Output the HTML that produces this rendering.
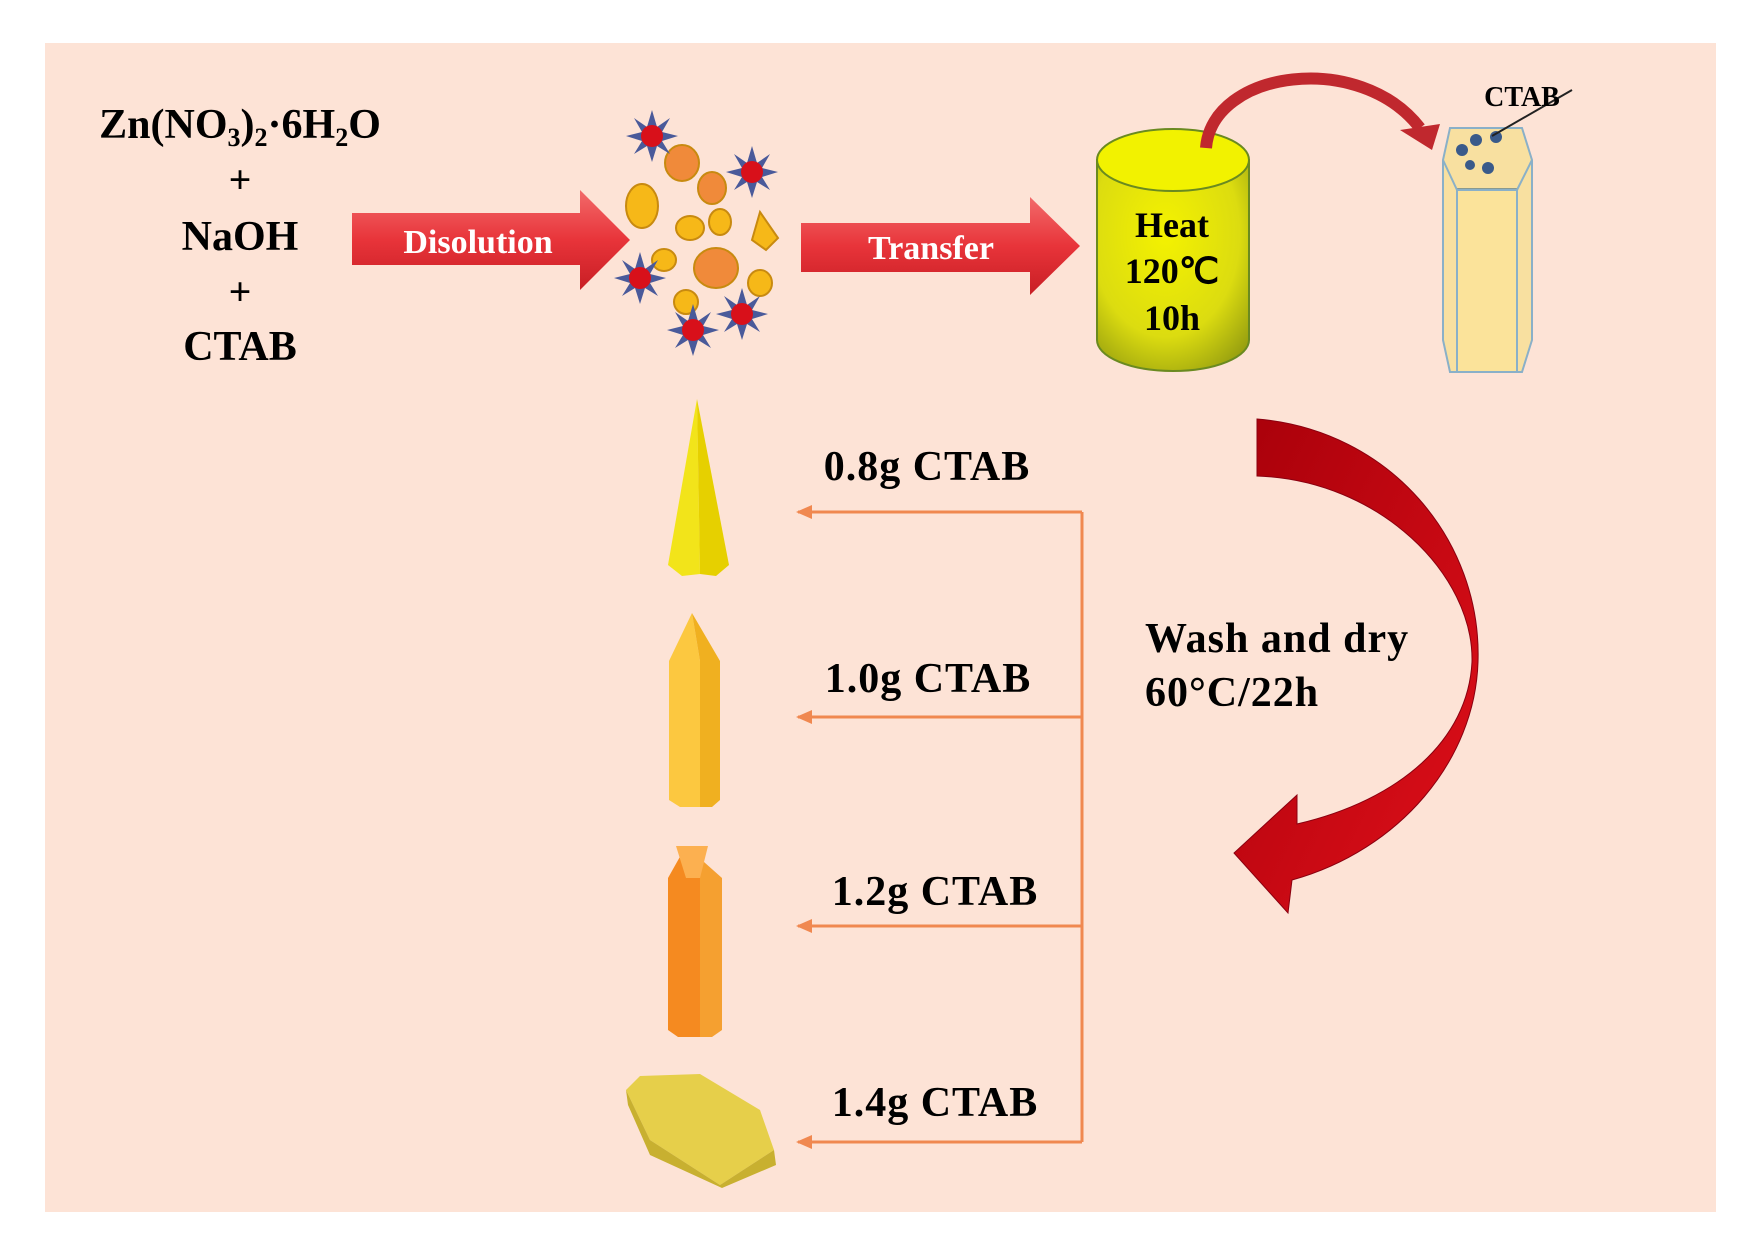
<!DOCTYPE html>
<html><head><meta charset="utf-8"><style>
html,body{margin:0;padding:0;background:#fff;}
svg{display:block;}
text{font-family:"Liberation Serif",serif;font-weight:bold;}
</style></head><body>
<svg width="1764" height="1256" viewBox="0 0 1764 1256" xmlns="http://www.w3.org/2000/svg">
<defs>
<linearGradient id="ar" x1="0" y1="0" x2="0" y2="1">
<stop offset="0" stop-color="#f26a6a"/><stop offset="0.5" stop-color="#e8343a"/><stop offset="1" stop-color="#c81e24"/></linearGradient>
<radialGradient id="cyl" cx="0.45" cy="0.35" r="0.75">
<stop offset="0" stop-color="#f4f200"/><stop offset="0.65" stop-color="#dcdc10"/><stop offset="1" stop-color="#98a010"/></radialGradient>
<linearGradient id="big" x1="0" y1="0" x2="1" y2="1">
<stop offset="0" stop-color="#a8000a"/><stop offset="1" stop-color="#e0101a"/></linearGradient>
<g id="star">
<polygon points="0,-26 5,-9 18,-18 10,-4 26,0 10,5 18,18 5,10 0,26 -5,10 -18,18 -10,5 -26,0 -10,-4 -18,-18 -5,-9" fill="#4a5a9a"/>
<circle r="11" fill="#d8101a"/></g>
</defs>
<rect x="45" y="43" width="1671" height="1169" fill="#fde3d6"/>

<text x="240" y="138" font-size="42" text-anchor="middle">Zn(NO<tspan font-size="26" dy="8">3</tspan><tspan dy="-8">)</tspan><tspan font-size="26" dy="8">2</tspan><tspan dy="-8">·6H</tspan><tspan font-size="26" dy="8">2</tspan><tspan dy="-8">O</tspan></text>
<text x="240" y="193" font-size="40" text-anchor="middle" font-weight="normal">+</text>
<text x="240" y="250" font-size="42" text-anchor="middle">NaOH</text>
<text x="240" y="305" font-size="40" text-anchor="middle" font-weight="normal">+</text>
<text x="240" y="360" font-size="42" text-anchor="middle">CTAB</text>

<polygon points="352,213 580,213 580,190 630,240 580,290 580,265 352,265" fill="url(#ar)"/>
<text x="478" y="253" font-size="34" fill="#fff" text-anchor="middle">Disolution</text>

<g stroke="#c88a10" stroke-width="2">
<ellipse cx="682" cy="163" rx="17" ry="18" fill="#f08a3a"/>
<ellipse cx="712" cy="188" rx="14" ry="16" fill="#f08a3a"/>
<ellipse cx="642" cy="206" rx="16" ry="22" fill="#f6b818"/>
<ellipse cx="690" cy="228" rx="14" ry="12" fill="#f6b818"/>
<ellipse cx="720" cy="222" rx="11" ry="13" fill="#f6b818"/>
<ellipse cx="664" cy="260" rx="12" ry="11" fill="#f6b818"/>
<ellipse cx="716" cy="268" rx="22" ry="20" fill="#f08a3a"/>
<ellipse cx="686" cy="302" rx="12" ry="12" fill="#f6b818"/>
<ellipse cx="760" cy="283" rx="12" ry="13" fill="#f6b818"/>
<polygon points="760,212 778,238 766,250 752,240" fill="#f6b818"/>
</g>
<use href="#star" x="652" y="136"/>
<use href="#star" x="752" y="172"/>
<use href="#star" x="640" y="278"/>
<use href="#star" x="742" y="314"/>
<use href="#star" x="693" y="330"/>

<polygon points="801,223 1030,223 1030,197 1080,246 1030,295 1030,272 801,272" fill="url(#ar)"/>
<text x="931" y="259" font-size="34" fill="#fff" text-anchor="middle">Transfer</text>

<path d="M1097,160 L1097,340 A76,31 0 0 0 1249,340 L1249,160 Z" fill="url(#cyl)" stroke="#6a8a20" stroke-width="2"/>
<ellipse cx="1173" cy="160" rx="76" ry="31" fill="#f2f200" stroke="#6a8a20" stroke-width="2"/>
<text x="1172" y="237" font-size="36" text-anchor="middle">Heat</text>
<text x="1172" y="283" font-size="36" text-anchor="middle">120℃</text>
<text x="1172" y="330" font-size="36" text-anchor="middle">10h</text>

<path d="M1206,148 C1212,70 1360,50 1420,128" fill="none" stroke="#c0282e" stroke-width="12"/>
<polygon points="1400,130 1440,124 1432,150" fill="#c0282e"/>

<polygon points="1450,128 1522,128 1532,160 1532,340 1522,372 1450,372 1443,340 1443,160" fill="#f8e0a0" stroke="#8ab0c8" stroke-width="2"/>
<line x1="1457" y1="190" x2="1517" y2="190" stroke="#8a9a90" stroke-width="4"/>
<rect x="1457" y="190" width="60" height="182" fill="#fbe39a" stroke="#8ab0c8" stroke-width="2"/>
<line x1="1443" y1="160" x2="1457" y2="190" stroke="#8ab0c8" stroke-width="2"/>
<line x1="1532" y1="160" x2="1517" y2="190" stroke="#8ab0c8" stroke-width="2"/>
<g fill="#3a5a8a"><circle cx="1462" cy="150" r="6"/><circle cx="1476" cy="140" r="6"/><circle cx="1496" cy="137" r="6"/><circle cx="1488" cy="168" r="6"/><circle cx="1470" cy="165" r="5"/></g>
<line x1="1572" y1="90" x2="1492" y2="136" stroke="#222" stroke-width="2"/>
<text x="1522" y="106" font-size="28" text-anchor="middle">CTAB</text>

<path d="M1257,419 C1390,430 1482,540 1478,662 C1475,760 1400,850 1292,880 L1288,913 L1234,853 L1297,795 L1297,824 C1400,800 1468,740 1472,662 C1474,575 1380,480 1257,476 Z" fill="url(#big)" stroke="#8a0010" stroke-width="1"/>

<text x="1145" y="652" font-size="42" letter-spacing="1">Wash and dry</text>
<text x="1145" y="706" font-size="42" letter-spacing="1">60°C/22h</text>

<g stroke="#f08850" stroke-width="3" fill="none">
<polyline points="1082,512 1082,1142"/>
<line x1="1082" y1="512" x2="798" y2="512"/>
<line x1="1082" y1="717" x2="798" y2="717"/>
<line x1="1082" y1="926" x2="798" y2="926"/>
<line x1="1082" y1="1142" x2="798" y2="1142"/>
</g>
<g fill="#f08850">
<polygon points="796,512 812,505 812,519"/>
<polygon points="796,717 812,710 812,724"/>
<polygon points="796,926 812,919 812,933"/>
<polygon points="796,1142 812,1135 812,1149"/>
</g>
<text x="927" y="480" font-size="42" text-anchor="middle" letter-spacing="1">0.8g CTAB</text>
<text x="928" y="692" font-size="42" text-anchor="middle" letter-spacing="1">1.0g CTAB</text>
<text x="935" y="905" font-size="42" text-anchor="middle" letter-spacing="1">1.2g CTAB</text>
<text x="935" y="1116" font-size="42" text-anchor="middle" letter-spacing="1">1.4g CTAB</text>

<polygon points="697,399 668,565 682,576 700,574" fill="#f2e41a"/>
<polygon points="697,399 700,574 716,576 729,565" fill="#e6d000"/>
<polygon points="692,613 669,661 669,800 680,807 700,807 700,661" fill="#fcc840"/>
<polygon points="692,613 700,661 700,807 712,807 720,800 720,661" fill="#f0b020"/>
<polygon points="686,846 668,878 668,1030 678,1037 700,1037 700,878" fill="#f58a20"/>
<polygon points="686,846 700,878 700,1037 712,1037 722,1030 722,878" fill="#f5a030"/>
<polygon points="676,846 708,846 700,878 686,878" fill="#fcb050"/>
<polygon points="640,1076 700,1074 760,1110 774,1150 720,1185 650,1140 626,1090" fill="#e6cf4a"/>
<polygon points="626,1090 650,1140 720,1185 774,1150 776,1165 722,1188 650,1155 628,1105" fill="#c8b030"/>
</svg>
</body></html>
